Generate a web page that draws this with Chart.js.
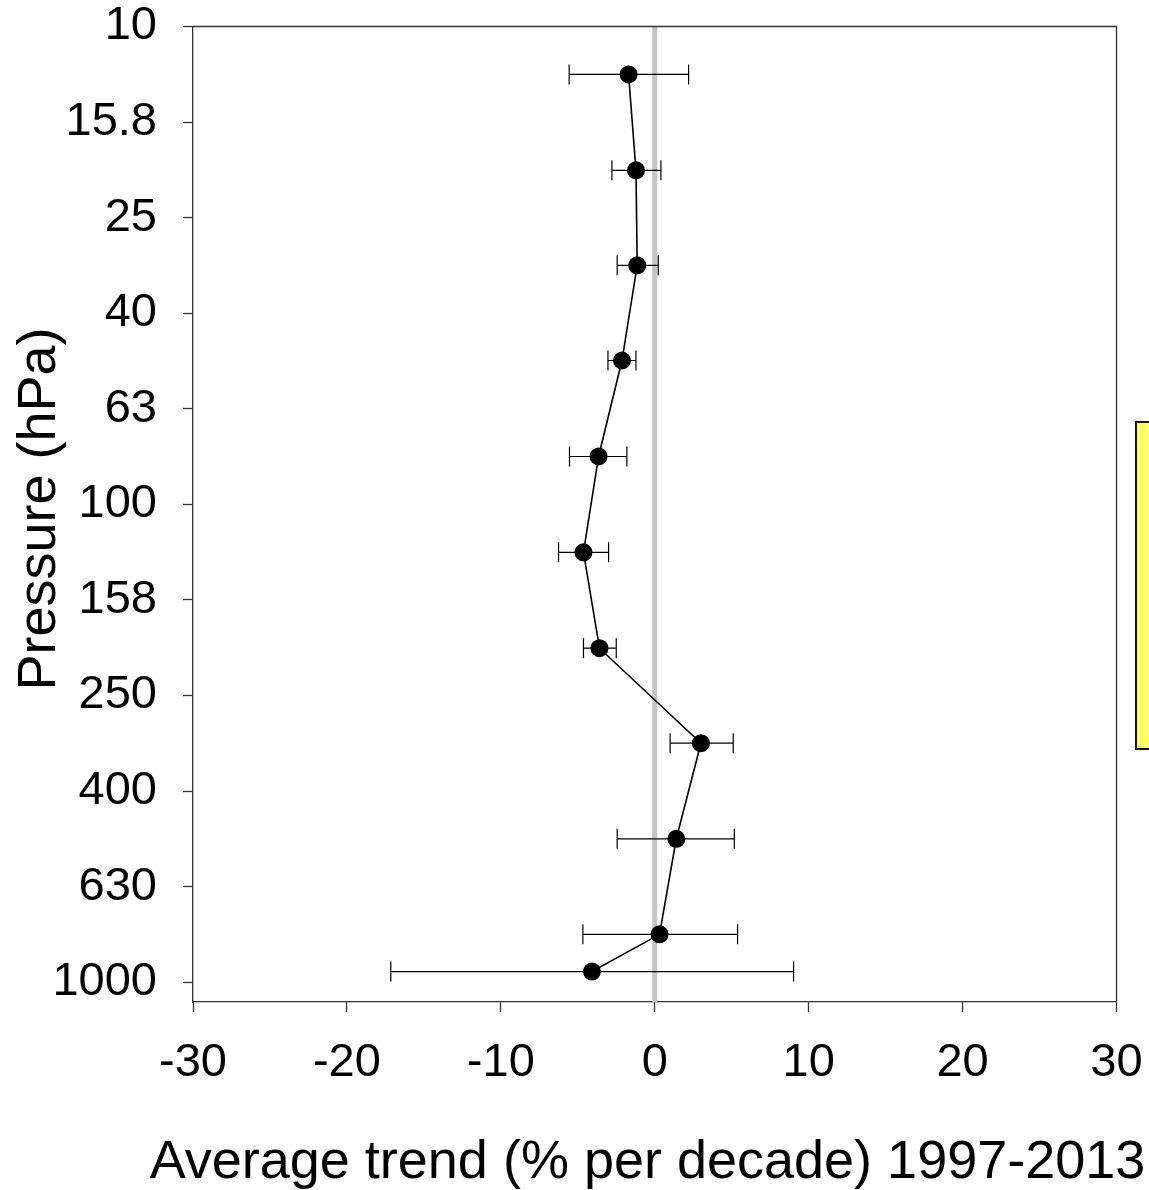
<!DOCTYPE html>
<html>
<head>
<meta charset="utf-8">
<script src="https://cdn.jsdelivr.net/npm/chart.js@4/dist/chart.umd.min.js"></script>
<style>
  html, body { margin: 0; padding: 0; background: #fff; }
  #wrap { position: relative; width: 1149px; height: 1190px; overflow: hidden; }
  #note { position: absolute; left: 1135px; top: 421px; width: 40px; height: 325px;
          background: #ffff66; border: 2px solid #111; }
</style>
</head>
<body>
<div id="wrap">
  <canvas id="c" width="1149" height="1190"></canvas>
  <div id="note"></div>
</div>
<script>
// Pressure levels (hPa) of each point
const pressure = [12.6, 20, 31.6, 50, 79.4, 126, 200, 316, 501, 794, 950];
// Average trend (% per decade)
const trend    = [-1.70, -1.22, -1.14, -2.13, -3.65, -4.63, -3.59, 3.00, 1.40, 0.31, -4.08];
// Error bar ends
const errLow   = [-5.56, -2.78, -2.44, -3.04, -5.54, -6.25, -4.63, 1.00, -2.44, -4.67, -17.15];
const errHigh  = [ 2.20,  0.40,  0.23, -1.22, -1.81, -3.00, -2.50, 5.10, 5.17, 5.38,  9.02];
// Axis ticks
const yTickValues = [10, 15.85, 25.12, 39.81, 63.1, 100, 158.5, 251.2, 398.1, 631, 1000];
const yTickLabels = ['10', '15.8', '25', '40', '63', '100', '158', '250', '400', '630', '1000'];
const xTickValues = [-30, -20, -10, 0, 10, 20, 30];
const xTitle = 'Average trend (% per decade) 1997-2013';
const yTitle = 'Pressure (hPa)';

const FONT = '"Liberation Sans", Arial, Helvetica, sans-serif';
const AXIS_COLOR = '#333333';

const points = pressure.map((p, i) => ({ x: trend[i], y: p }));

const decorPlugin = {
  id: 'decor',
  beforeDatasetsDraw(chart) {
    const { ctx, chartArea: a, scales: { x, y } } = chart;
    ctx.save();
    // zero reference line
    const x0 = x.getPixelForValue(0);
    ctx.strokeStyle = '#c4c4c4';
    ctx.lineWidth = 5;
    ctx.beginPath();
    ctx.moveTo(x0, a.top);
    ctx.lineTo(x0, a.bottom);
    ctx.stroke();
    // error bars
    ctx.strokeStyle = '#000';
    ctx.lineWidth = 1.2;
    const cap = 10;
    for (let i = 0; i < pressure.length; i++) {
      const py = y.getPixelForValue(pressure[i]);
      const xl = x.getPixelForValue(errLow[i]);
      const xh = x.getPixelForValue(errHigh[i]);
      ctx.beginPath();
      ctx.moveTo(xl, py); ctx.lineTo(xh, py);
      ctx.moveTo(xl, py - cap); ctx.lineTo(xl, py + cap);
      ctx.moveTo(xh, py - cap); ctx.lineTo(xh, py + cap);
      ctx.stroke();
    }
    ctx.restore();
  },
  afterDraw(chart) {
    const { ctx, chartArea: a } = chart;
    ctx.save();
    ctx.strokeStyle = AXIS_COLOR;
    ctx.lineWidth = 1.3;
    ctx.beginPath();
    ctx.moveTo(a.left, a.top);
    ctx.lineTo(a.right, a.top);
    ctx.lineTo(a.right, a.bottom);
    ctx.stroke();
    // axis titles
    ctx.fillStyle = '#000';
    ctx.font = '54px ' + FONT;
    ctx.textAlign = 'center';
    ctx.textBaseline = 'alphabetic';
    ctx.fillText(xTitle, 647.5, 1178);
    ctx.translate(40, 509);
    ctx.rotate(-Math.PI / 2);
    ctx.textBaseline = 'middle';
    ctx.fillText(yTitle, 0, 0);
    ctx.restore();
  }
};

new Chart(document.getElementById('c'), {
  type: 'scatter',
  data: {
    datasets: [{
      data: points,
      showLine: true,
      borderColor: '#000',
      borderWidth: 1.6,
      backgroundColor: '#000',
      pointRadius: 9,
      pointHoverRadius: 9,
      pointBorderWidth: 0
    }]
  },
  options: {
    responsive: false,
    animation: false,
    events: [],
    layout: { padding: { top: 26.5, right: 32.5, left: 0, bottom: 0 } },
    plugins: { legend: { display: false }, tooltip: { enabled: false } },
    scales: {
      x: {
        type: 'linear',
        min: -30, max: 30,
        afterBuildTicks(scale) { scale.ticks = xTickValues.map(v => ({ value: v })); },
        afterFit(scale) {
          scale.height = 188;
          scale.paddingLeft = 0; scale.paddingRight = 0;
          scale.paddingTop = 0; scale.paddingBottom = 0;
        },
        grid: { drawOnChartArea: false, drawTicks: true, tickLength: 10, color: AXIS_COLOR, tickWidth: 1.3 },
        border: { display: true, color: AXIS_COLOR, width: 1.3 },
        ticks: {
          font: { family: FONT, size: 47 },
          color: '#000',
          padding: 23,
          maxRotation: 0,
          autoSkip: false,
          callback: (v) => String(v)
        },
        title: { display: false }
      },
      y: {
        type: 'logarithmic',
        reverse: true,
        min: 10, max: 1100,
        afterBuildTicks(scale) { scale.ticks = yTickValues.map(v => ({ value: v })); },
        afterFit(scale) {
          scale.width = 193;
          scale.paddingLeft = 0; scale.paddingRight = 0;
          scale.paddingTop = 0; scale.paddingBottom = 0;
        },
        grid: { drawOnChartArea: false, drawTicks: true, tickLength: 10, color: AXIS_COLOR, tickWidth: 1.3 },
        border: { display: true, color: AXIS_COLOR, width: 1.3 },
        ticks: {
          font: { family: FONT, size: 47 },
          color: '#000',
          padding: 26,
          autoSkip: false,
          callback: (v, i) => yTickLabels[i]
        },
        title: { display: false }
      }
    }
  },
  plugins: [decorPlugin]
});
</script>
</body>
</html>
